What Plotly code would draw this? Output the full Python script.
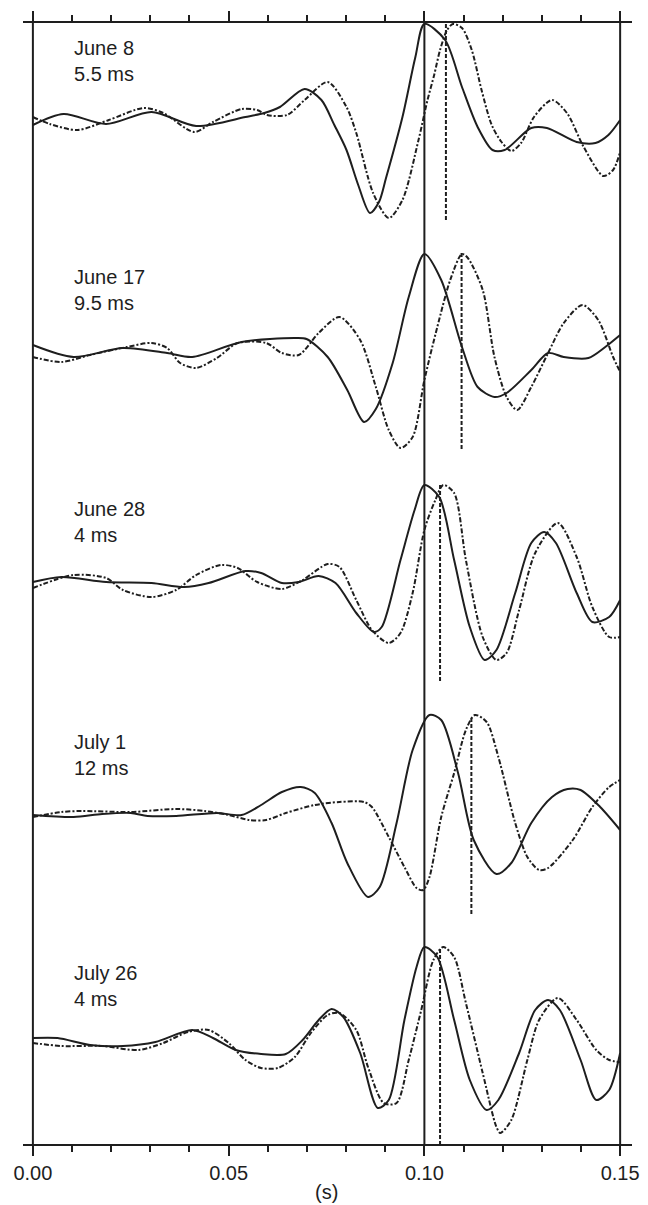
import plotly.graph_objects as go

# ---------------- data (time in ms, amplitude in arbitrary units, baseline = 0) ----------------
dates = ["June 8", "June 17", "June 28", "July 1", "July 26"]
lags_ms = [5.5, 9.5, 4, 12, 4]
x_ticks = [0, 0.05, 0.10, 0.15]
x_tick_labels = ["0.00", "0.05", "0.10", "0.15"]

june8_solid_t = [0, 7.8, 18.7, 30.3, 41.7, 54.3, 59.1, 63.1, 69.4, 73.7, 77.0, 80.1, 83.1, 86.1, 88.4,
                 90.2, 94.4, 97.7, 100, 105.3, 109.6, 113.6, 117.4, 120.5, 127.3, 131.3, 138.9, 143.7, 147.0, 150]
june8_solid_a = [-5, 6, -4, 8, -6, 3, 7, 13, 31, 20, -5, -30, -65, -93, -82,
                 -58, 3, 63, 96, 80, 33, -7, -30, -30, -8, -8, -22, -23, -15, 0]
june8_dash_t = [0, 4.3, 11.4, 19.4, 28.3, 33.3, 41.2, 46.0, 53.3, 57.3, 59.8, 64.9, 69.4, 75.3, 80.1,
                82.6, 86.9, 90.9, 94.4, 98.5, 100.8, 102.5, 104.0, 105.8, 107.3, 109.6, 112.1, 114.6, 117.2, 119.7,
                122.2, 124.7, 128.0, 132.6, 136.4, 140.7, 145.7, 148.2, 150]
june8_dash_a = [3, -4, -10, 0, 12, 7, -12, -2, 11, 10, 5, 5, 20, 38, 13,
                -13, -73, -98, -80, -20, 20, 45, 70, 90, 96, 92, 70, 30, -5, -22,
                -31, -23, 3, 20, 7, -27, -56, -50, -32]

june17_solid_t = [0, 10.4, 23.0, 34.3, 40.7, 53.3, 66.9, 69.9, 75.3, 80.3, 84.6, 87.6, 91.9, 96.0, 100,
                  104.3, 109.6, 113.6, 117.9, 121.0, 127.3, 131.6, 135.6, 141.9, 146.2, 150]
june17_solid_a = [4, -8, 1, -4, -8, 7, 11, 10, -8, -41, -73, -60, -14, 52, 95,
                  69, 2, -38, -48, -44, -21, -4, -8, -9, 2, 14]
june17_dash_t = [0, 7.3, 14.6, 24.0, 30.3, 34.3, 37.6, 41.7, 47.0, 52.3, 59.6, 63.6, 67.9, 73.0, 78.3,
                 83.6, 87.6, 90.9, 93.9, 97.0, 100, 103.3, 106.6, 109.6, 111.1, 114.9, 117.9, 121.0, 123.7, 127.3,
                 131.6, 135.6, 140.4, 144.4, 148.2, 150]
june17_dash_a = [-8, -13, -6, 2, 6, 1, -14, -19, -9, 6, 6, -4, -6, 16, 32,
                 9, -38, -81, -99, -88, -31, 22, 69, 95, 91, 59, -8, -48, -61, -38,
                 -4, 26, 44, 29, -8, -23]

june28_solid_t = [0, 7.3, 18.7, 30.3, 38.6, 44.9, 54.3, 58.3, 63.6, 67.9, 73.0, 77.3, 82.6, 87.1, 89.1,
                  93.9, 97.5, 100, 103.8, 107.6, 111.6, 115.4, 118.4, 123.2, 127.3, 130.6, 133.6, 138.9, 142.9, 147.2, 150]
june28_solid_a = [-1, 4, -1, -2, -6, -2, 10, 8, -2, -1, 5, -2, -32, -51, -46,
                  21, 71, 96, 84, 21, -46, -79, -69, -12, 38, 49, 38, -12, -41, -36, -19]
june28_dash_t = [0, 10.4, 18.7, 23.0, 30.3, 36.6, 41.7, 48.0, 52.3, 57.3, 63.6, 68.9, 75.3, 78.3, 82.6,
                 86.6, 90.9, 93.9, 97.0, 100, 102.8, 104.8, 107.6, 110.6, 114.9, 118.4, 121.0, 124.2, 128.3, 134.1,
                 138.9, 142.9, 147.2, 150]
june28_dash_a = [-7, 6, 3, -9, -16, -9, 6, 16, 13, -1, -8, 1, 17, 14, -19,
                 -49, -62, -52, -12, 51, 81, 96, 88, 21, -56, -79, -72, -29, 28, 58,
                 24, -26, -56, -56]

july1_solid_t = [0, 10.4, 17.7, 25.0, 29.3, 36.6, 47.0, 53.3, 58.3, 63.6, 68.4, 72.0, 76.3, 80.3, 85.6,
                 88.6, 92.9, 97.0, 101.3, 104.3, 108.6, 112.6, 118.4, 122.2, 127.3, 132.6, 136.6, 139.9, 144.9, 150]
july1_solid_a = [-1, -3, 0, 1, -2, -2, 1, -1, 9, 22, 27, 21, -9, -49, -83,
                 -73, -9, 64, 99, 94, 41, -26, -60, -49, -9, 17, 25, 24, 7, -16]
july1_dash_t = [0, 7.3, 12.6, 25.0, 36.6, 43.9, 50.0, 55.3, 59.6, 64.6, 72.0, 78.3, 84.6, 86.6, 90.9,
                94.9, 98.0, 99.7, 101.3, 104.3, 107.6, 110.6, 112.9, 115.9, 118.9, 123.2, 126.3, 129.3, 131.6, 137.9,
                142.9, 147.2, 150]
july1_dash_a = [-3, 2, 3, 2, 5, 3, -1, -6, -6, 1, 9, 12, 12, 7, -23,
                -53, -74, -76, -63, -3, 41, 84, 99, 92, 57, -9, -43, -56, -54, -26,
                7, 27, 34]

july26_solid_t = [0, 6.3, 14.6, 23.0, 31.3, 40.7, 46.0, 51.8, 58.3, 64.6, 68.9, 73.0, 76.3, 79.3, 83.6,
                  88.1, 90.9, 94.9, 98.0, 100, 103.3, 107.6, 111.6, 115.9, 118.9, 124.2, 128.3, 131.6, 134.6, 139.9,
                  143.9, 147.2, 150]
july26_solid_a = [7, 7, 0, -1, 3, 15, 7, -5, -9, -9, 5, 25, 36, 28, -8,
                  -63, -55, 25, 78, 98, 88, 25, -35, -65, -55, -8, 35, 45, 35, -15,
                  -55, -45, -8]
july26_dash_t = [0, 7.3, 17.7, 27.0, 33.3, 39.6, 44.9, 50.0, 54.3, 58.3, 62.6, 66.9, 71.0, 75.3, 78.3,
                 82.6, 85.6, 89.6, 92.9, 96.0, 99.2, 102.3, 104.8, 107.6, 110.6, 114.9, 118.4, 119.4, 122.2, 126.3,
                 129.3, 134.1, 138.9, 143.9, 147.2, 150]
july26_dash_a = [2, -1, -1, -5, 2, 13, 15, 2, -15, -23, -23, -12, 12, 30, 32,
                 15, -22, -58, -58, -15, 35, 85, 98, 88, 42, -28, -82, -88, -75, -15,
                 25, 47, 25, -5, -15, -17]

solid_t = [june8_solid_t, june17_solid_t, june28_solid_t, july1_solid_t, july26_solid_t]
solid_a = [june8_solid_a, june17_solid_a, june28_solid_a, july1_solid_a, july26_solid_a]
dash_t = [june8_dash_t, june17_dash_t, june28_dash_t, july1_dash_t, july26_dash_t]
dash_a = [june8_dash_a, june17_dash_a, june28_dash_a, july1_dash_a, july26_dash_a]

# ---------------- layout constants ----------------
W, H = 648, 1205
M_T, M_B, M_L, M_R = 23, 61, 23, 9
PLOT_TOP, PLOT_BOT = M_T, H - M_B
PH = PLOT_BOT - PLOT_TOP
panel_base_px = [120, 349, 581, 814, 1045]   # pixel row of each panel's zero line
PX_PER_S = 3960.0
INK = "#1e1e1e"
FONT = "Liberation Sans, Arial, Helvetica, sans-serif"

x_lo = -(33 - 23) / PX_PER_S
x_hi = 0.15 + (639 - 627) / PX_PER_S

fig = go.Figure()

# dummy full-height subplot that carries the visible x axis (bottom + mirrored top ticks)
fig.add_trace(go.Scatter(x=[None], y=[None], xaxis="x", yaxis="y", showlegend=False, hoverinfo="skip"))

layout_axes = {}
annotations = []
for i in range(5):
    ax = i + 2
    b = panel_base_px[i]
    top = max(PLOT_TOP, b - 110)
    bot = min(PLOT_BOT, b + 121)
    layout_axes[f"yaxis{ax}"] = dict(
        domain=[(PLOT_BOT - bot) / PH, (PLOT_BOT - top) / PH],
        range=[b - bot, b - top], anchor="x2", visible=False, fixedrange=True,
    )
    yref = f"y{ax}"
    fig.add_trace(go.Scatter(
        x=[t / 1000 for t in solid_t[i]], y=solid_a[i], mode="lines", xaxis="x2", yaxis=yref,
        line=dict(color=INK, width=2, shape="spline", smoothing=0.8), showlegend=False))
    fig.add_trace(go.Scatter(
        x=[t / 1000 for t in dash_t[i]], y=dash_a[i], mode="lines", xaxis="x2", yaxis=yref,
        line=dict(color=INK, width=2, shape="spline", smoothing=0.8, dash="5px,2px,2px,2px"),
        showlegend=False))
    lag_x = 0.1 + lags_ms[i] / 1000
    fig.add_trace(go.Scatter(
        x=[lag_x, lag_x], y=[96, -100], mode="lines", xaxis="x2", yaxis=yref,
        line=dict(color=INK, width=2, dash="4px,2px"), showlegend=False))
    annotations.append(dict(
        x=0.01, y=59, xref="x", yref=yref, xanchor="left", yanchor="middle", align="left",
        text=f"{dates[i]}<br>{lags_ms[i]:g} ms", showarrow=False,
        font=dict(family=FONT, size=20, color=INK)))

annotations.append(dict(
    x=0.075, xref="x", y=(PLOT_BOT - 1192) / PH, yref="paper", xanchor="center", yanchor="middle",
    text="(s)", showarrow=False, font=dict(family=FONT, size=20, color=INK)))

shapes = []
for xv in [0, 0.1, 0.15]:
    shapes.append(dict(type="line", xref="x", yref="paper", x0=xv, x1=xv, y0=0, y1=1,
                       line=dict(color=INK, width=2)))

fig.update_layout(
    width=W, height=H,
    margin=dict(l=M_L, r=M_R, t=M_T, b=M_B, pad=0),
    paper_bgcolor="white", plot_bgcolor="white",
    showlegend=False,
    xaxis=dict(
        range=[x_lo, x_hi], anchor="y", domain=[0, 1], showgrid=False, zeroline=False,
        showline=True, linecolor=INK, linewidth=2, mirror="allticks",
        ticks="outside", ticklen=10, tickwidth=2, tickcolor=INK,
        tickvals=x_ticks, ticktext=x_tick_labels,
        tickfont=dict(family=FONT, size=20, color=INK),
        minor=dict(dtick=0.01, tick0=0, ticks="outside", ticklen=6, tickwidth=1.5,
                   tickcolor=INK, showgrid=False),
        fixedrange=True,
    ),
    xaxis2=dict(range=[x_lo, x_hi], domain=[0, 1], anchor="y2", visible=False, fixedrange=True),
    yaxis=dict(domain=[0, 1], range=[0, 1], visible=False, fixedrange=True),
    annotations=annotations,
    shapes=shapes,
    **layout_axes,
)

fig.write_html("out.html")
